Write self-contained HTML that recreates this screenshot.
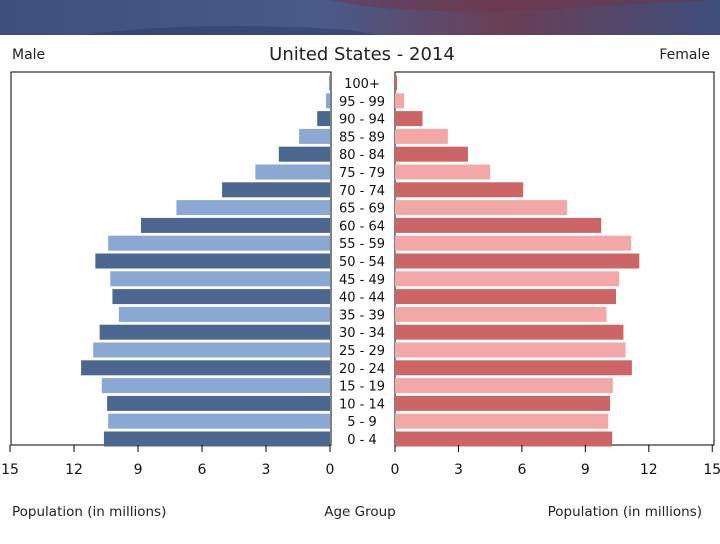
<!DOCTYPE html>
<html><head><meta charset="utf-8"><style>
body{margin:0;width:720px;height:540px;overflow:hidden;background:#fff;font-family:"DejaVu Sans","Liberation Sans",sans-serif}
</style></head><body>
<svg width="720" height="540" xmlns="http://www.w3.org/2000/svg" id="chart">
<defs>
<linearGradient id="bg" x1="0" y1="0" x2="1" y2="0">
<stop offset="0" stop-color="#3d4f7c"/><stop offset="0.45" stop-color="#4a5a8a"/><stop offset="0.7" stop-color="#6a3f55"/><stop offset="1" stop-color="#3e4f7e"/>
</linearGradient>
</defs>
<g>
<rect x="0" y="0" width="720" height="35" fill="url(#bg)"/>
<path d="M80,35 Q200,20 350,30 L380,35 Z" fill="#2f4070" opacity="0.6"/>
<path d="M330,0 Q420,20 620,5 L720,0 Z" fill="#703348" opacity="0.5"/>
</g>
<text x="12" y="59" font-size="14" fill="#222">Male</text>
<text x="362" y="60" font-size="18" fill="#222" text-anchor="middle">United States - 2014</text>
<text x="710" y="59" font-size="14" fill="#222" text-anchor="end">Female</text>
<rect x="11" y="72" width="320" height="373" fill="none" stroke="#000" stroke-width="1"/>
<rect x="395" y="72" width="319" height="373" fill="none" stroke="#000" stroke-width="1"/>
<g id="bars"></g>
<g id="axes"></g>
<text x="12" y="516" font-size="13.5" fill="#222">Population (in millions)</text>
<text x="360" y="516" font-size="13.5" fill="#222" text-anchor="middle">Age Group</text>
<text x="702" y="516" font-size="13.5" fill="#222" text-anchor="end">Population (in millions)</text>
</svg>
<script>
const ageGroups=["0 - 4","5 - 9","10 - 14","15 - 19","20 - 24","25 - 29","30 - 34","35 - 39","40 - 44","45 - 49","50 - 54","55 - 59","60 - 64","65 - 69","70 - 74","75 - 79","80 - 84","85 - 89","90 - 94","95 - 99","100+"];
const maleValues=[10.6,10.4,10.45,10.7,11.67,11.1,10.8,9.9,10.2,10.3,11.0,10.4,8.86,7.2,5.06,3.5,2.4,1.45,0.6,0.19,0.03];
const femaleValues=[10.27,10.08,10.17,10.3,11.2,10.9,10.8,10.0,10.45,10.6,11.55,11.17,9.75,8.14,6.06,4.5,3.45,2.5,1.3,0.43,0.1];
const tickValues=[0,3,6,9,12,15];
const NS="http://www.w3.org/2000/svg";
const maleX=v=>330-v*21.33;
const femaleX=v=>395+v*21.15;
const rowY=i=>439-i*17.8;
const bars=document.getElementById('bars'),axes=document.getElementById('axes');
function mk(tag,attrs,parent){const e=document.createElementNS(NS,tag);for(const k in attrs)e.setAttribute(k,attrs[k]);parent.appendChild(e);return e;}
ageGroups.forEach((g,i)=>{
  const y=rowY(i),dark=i%2===0;
  const m=mk('rect',{x:maleX(maleValues[i]),y:y-7.5,width:330-maleX(maleValues[i]),height:15,fill:dark?'#4b6790':'#8aa8d2'},bars);
  
  
  const f=mk('rect',{x:395,y:y-7.5,width:femaleX(femaleValues[i])-395,height:15,fill:dark?'#cc6666':'#f3a8a8'},bars);
  
  
  const t=mk('text',{x:362,y:y+5,'font-size':13,'text-anchor':'middle',fill:'#111'},bars);
  t.textContent=g;
  
  
});
tickValues.forEach(v=>{
  [maleX(v),femaleX(v)].forEach((x,s)=>{
    const l=mk('line',{x1:x,x2:x,y1:445,y2:452,stroke:'#000'},axes);
    
    
    const t=mk('text',{x:x,y:474,'font-size':14,'text-anchor':'middle',fill:'#111'},axes);
    t.textContent=v;
    
    
  });
});
</script>
</body></html>
